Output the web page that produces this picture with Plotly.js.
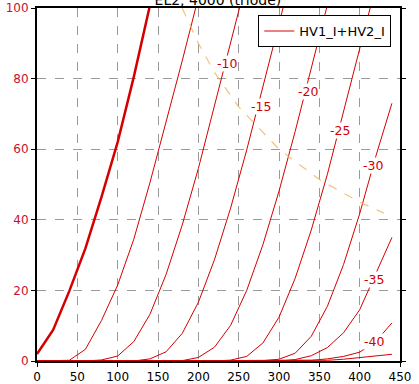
<!DOCTYPE html>
<html>
<head>
<meta charset="utf-8">
<script src="https://cdn.plot.ly/plotly-3.0.1.min.js"></script>
<style>html,body{margin:0;padding:0;background:#fff;}#plot{width:419px;height:384px;}</style>
</head>
<body>
<div id="plot"></div>
<script>
// Plate voltage grid (V)
const plateV = [0,20,40,60,80,100,120,140,160,180,200,220,240,260,280,300,320,340,360,380,400,420,440];
// Plate current (mA) for each grid voltage
const grid0   = [2,8.8,19.8,31.9,46.5,62,80.5,100.5,121];
const grid5   = [0,0,0.2,3.3,11.5,21.5,34.5,50.5,67.5,85,103,122];
const grid10  = [0,0,0,0,0.3,1.4,5.5,13.2,24.5,38.5,54.5,72,90,108];
const grid15  = [0,0,0,0,0,0,0,0.6,2.6,7.8,16.6,28.7,43.3,59.8,77.4,95.4,113.4];
const grid20  = [0,0,0,0,0,0,0,0,0,0.1,1,3.9,10.1,20,32.9,48.1,65,82.8,100.8,118.8];
const grid25  = [0,0,0,0,0,0,0,0,0,0,0,0,0.25,1.3,5.1,12.4,23.4,37.1,52.9,70.3,88.2,106.2];
const grid30  = [0,0,0,0,0,0,0,0,0,0,0,0,0,0,0.1,0.5,2.2,7,15.5,27.3,41.7,58,73];
const grid35  = [0,0,0,0,0,0,0,0,0,0,0,0,0,0,0,0,0.4,1.5,3.8,8,14.5,24.5,35];
const grid40  = [0,0,0,0,0,0,0,0,0,0,0,0,0,0,0,0,0,0.2,0.6,1.3,2.5,5.5,10.8];
const grid45  = [0,0,0,0,0,0,0,0,0,0,0,0,0,0,0,0,0,0,0.2,0.5,0.9,1.3,1.9];
// Max dissipation curve
const pdissV = [180,200,220,250,300,350,400,430];
const pdissI = [100,90,81.8,72,60,51.4,45,41.9];
// Curve labels
const labelText = ['-10','-15','-20','-25','-30','-35','-40'];
const labelV = [236,278,336,375,417,418,418];
const labelI = [84.3,72.2,76.3,65.2,55.3,23.1,5.5];
// Axis ticks
const xTicks = [0,50,100,150,200,250,300,350,400,450];
const yTicks = [0,20,40,60,80,100];

const red = '#d40000';
const curves = [grid5,grid10,grid15,grid20,grid25,grid30,grid35,grid40,grid45];
const traces = [];
curves.forEach((c,i)=>{
  traces.push({x: plateV.slice(0,c.length), y: c, mode:'lines', type:'scatter',
    line:{color:red, width:1}, name:'HV1_I+HV2_I', showlegend: i===0, hoverinfo:'skip'});
});
traces.push({x: plateV.slice(0,grid0.length), y: grid0, mode:'lines', type:'scatter',
  line:{color:red, width:2.5}, showlegend:false, hoverinfo:'skip'});
traces.push({x: pdissV, y: pdissI, mode:'lines', type:'scatter',
  line:{color:'rgba(240,185,100,0.85)', width:1.2, dash:'dash'}, showlegend:false, hoverinfo:'skip'});

const annotations = labelText.map((t,i)=>({x:labelV[i], y:labelI[i], xref:'x', yref:'y', text:t,
  showarrow:false, bgcolor:'white', borderpad:0, font:{family:'DejaVu Sans', size:12.5, color:red}}));

const layout = {
  width:419, height:384,
  margin:{l:37, r:19, t:8, b:23, pad:0},
  paper_bgcolor:'white', plot_bgcolor:'white',
  font:{family:'DejaVu Sans', size:12, color:'#000'},
  title:{text:'EL2, 4000 (triode)', x:0.52, xanchor:'center', y:1.0, yref:'container', yanchor:'middle',
    font:{family:'DejaVu Sans', size:14, color:'#000'}},
  xaxis:{range:[0,450], tickvals:xTicks, ticktext:xTicks.map(String), showgrid:true, gridcolor:'#9a9a9a', griddash:'dash', gridwidth:1,
    zeroline:false, showline:true, linecolor:'#000', linewidth:2, mirror:true, ticks:'outside', ticklen:4, tickcolor:'#000',
    tickfont:{family:'DejaVu Sans', size:12, color:'#000'}},
  yaxis:{range:[0,100], tickvals:yTicks, ticktext:yTicks.map(String), showgrid:true, gridcolor:'#9a9a9a', griddash:'dash', gridwidth:1,
    zeroline:false, showline:true, linecolor:'#000', linewidth:2, mirror:'ticks', ticks:'outside', ticklen:4, tickcolor:'#000',
    tickfont:{family:'DejaVu Sans', size:12, color:'#c8102e'}},
  legend:{x:0.976, xanchor:'right', y:0.98, yanchor:'top', bgcolor:'white', bordercolor:'#000', borderwidth:1,
    font:{family:'DejaVu Sans', size:13, color:'#000'}},
  annotations: annotations,
  showlegend:true
};
Plotly.newPlot('plot', traces, layout, {staticPlot:true, displayModeBar:false});
</script>
</body>
</html>
